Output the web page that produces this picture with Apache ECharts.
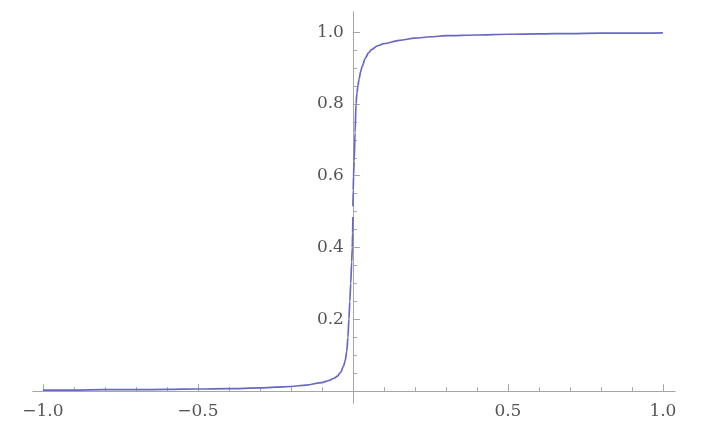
<!DOCTYPE html>
<html>
<head>
<meta charset="utf-8">
<script src="https://cdn.jsdelivr.net/npm/echarts@6/dist/echarts.min.js"></script>
<style>html,body{margin:0;padding:0;background:#fff}#c{width:710px;height:428px}</style>
</head>
<body>
<div id="c"></div>
<script>
// Left branch (x < 0)
const xLeft = [-1, -0.9, -0.8, -0.7, -0.6, -0.5, -0.4, -0.3, -0.25, -0.2, -0.15, -0.1, -0.08, -0.06, -0.05, -0.04, -0.03, -0.025, -0.02, -0.016, -0.013, -0.01, -0.007, -0.004, -0.002, -0.001, 0];
const yLeft = [0.003, 0.003, 0.004, 0.004, 0.005, 0.006, 0.007, 0.009, 0.011, 0.013, 0.017, 0.024, 0.029, 0.036, 0.042, 0.052, 0.07, 0.085, 0.11, 0.15, 0.2, 0.25, 0.3, 0.36, 0.4, 0.44, 0.485];
// Right branch (x > 0)
const xRight = [0, 0.001, 0.002, 0.004, 0.007, 0.01, 0.013, 0.016, 0.02, 0.025, 0.03, 0.04, 0.05, 0.06, 0.08, 0.1, 0.15, 0.2, 0.25, 0.3, 0.4, 0.5, 0.6, 0.7, 0.8, 0.9, 1];
const yRight = [0.515, 0.56, 0.6, 0.64, 0.72, 0.8, 0.83, 0.85, 0.87, 0.89, 0.905, 0.927, 0.942, 0.951, 0.962, 0.968, 0.977, 0.983, 0.987, 0.99, 0.992, 0.994, 0.995, 0.996, 0.997, 0.997, 0.998];
// Ticks and labels
const xMinorTicks = [-1, -0.9, -0.8, -0.7, -0.6, -0.5, -0.4, -0.3, -0.2, -0.1, 0.1, 0.2, 0.3, 0.4, 0.5, 0.6, 0.7, 0.8, 0.9, 1];
const xMajorTicks = [-1, -0.5, 0.5, 1];
const xLabels = [-1, -0.5, 0.5, 1];
const yMinorTicks = [0.05, 0.1, 0.15, 0.2, 0.25, 0.3, 0.35, 0.4, 0.45, 0.5, 0.55, 0.6, 0.65, 0.7, 0.75, 0.8, 0.85, 0.9, 0.95, 1];
const yMajorTicks = [0.2, 0.4, 0.6, 0.8, 1];
const yLabels = [0.2, 0.4, 0.6, 0.8, 1];

const pairs = (xs, ys) => xs.map((x, i) => [x, ys[i]]);
const fmt = v => v.toFixed(1).replace('-', '\u2212');
const axisColor = '#a6a6a6';
const labelStyle = { color: '#555', fontFamily: 'DejaVu Serif', fontSize: 17 };
const X = { min: -1.032, max: 1.039 };
const Y = { min: -0.033, max: 1.056 };
const G = { left: 33, width: 642, top: 12, height: 391 };
// place axis lines through the origin (axis crossing at zero)
const yAxisOffset = -G.width * (0 - X.min) / (X.max - X.min);
const xAxisOffset = -G.height * (0 - Y.min) / (Y.max - Y.min);

const chart = echarts.init(document.getElementById('c'));
chart.setOption({
  animation: false,
  grid: [Object.assign({}, G), Object.assign({}, G)],
  xAxis: [
    { type: 'value', gridIndex: 0, min: X.min, max: X.max, splitLine: { show: false }, position: 'bottom', offset: xAxisOffset,
      axisLine: { onZero: false, lineStyle: { color: axisColor, width: 1 } },
      axisTick: { inside: true, length: 4, customValues: xMinorTicks, lineStyle: { color: axisColor } },
      axisLabel: { show: false } },
    { type: 'value', gridIndex: 1, min: X.min, max: X.max, splitLine: { show: false }, position: 'bottom', offset: xAxisOffset,
      axisLine: { onZero: false, lineStyle: { color: axisColor, width: 1 } },
      axisTick: { inside: true, length: 7, customValues: xMajorTicks, lineStyle: { color: axisColor } },
      axisLabel: Object.assign({ customValues: xLabels, formatter: fmt, margin: 12 }, labelStyle) }
  ],
  yAxis: [
    { type: 'value', gridIndex: 0, min: Y.min, max: Y.max, splitLine: { show: false }, position: 'left', offset: yAxisOffset,
      axisLine: { show: true, onZero: false, lineStyle: { color: axisColor, width: 1 } },
      axisTick: { show: true, inside: true, length: 4, customValues: yMinorTicks, lineStyle: { color: axisColor } },
      axisLabel: { show: false } },
    { type: 'value', gridIndex: 1, min: Y.min, max: Y.max, splitLine: { show: false }, position: 'left', offset: yAxisOffset,
      axisLine: { show: true, onZero: false, lineStyle: { color: axisColor, width: 1 } },
      axisTick: { show: true, inside: true, length: 7, customValues: yMajorTicks, lineStyle: { color: axisColor } },
      axisLabel: Object.assign({ customValues: yLabels, formatter: fmt, margin: 9 }, labelStyle) }
  ],
  series: [
    { type: 'line', xAxisIndex: 0, yAxisIndex: 0, data: pairs(xLeft, yLeft), showSymbol: false,
      smooth: 0.3, smoothMonotone: 'x', lineStyle: { color: '#6868c2', width: 1.7 } },
    { type: 'line', xAxisIndex: 0, yAxisIndex: 0, data: pairs(xRight, yRight), showSymbol: false,
      smooth: 0.3, smoothMonotone: 'x', lineStyle: { color: '#6868c2', width: 1.7 } }
  ]
});
</script>
</body>
</html>
